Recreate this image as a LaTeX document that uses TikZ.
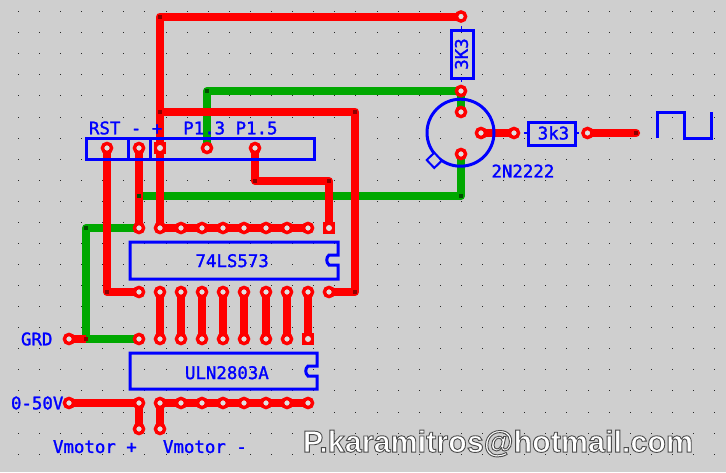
\documentclass[tikz,border=0pt]{standalone}
\usepackage{fontspec}
\newfontfamily\pcbfont[FakeBold=1.5]{DejaVu Sans Mono}
\newfontfamily\markfont[BoldFeatures={FakeBold=3}]{Liberation Sans}
\definecolor{bgc}{HTML}{CFCFCF}
\definecolor{pcbred}{HTML}{FF0000}
\definecolor{pcbgreen}{HTML}{00A800}
\definecolor{pcbblue}{HTML}{0000FF}
\definecolor{holec}{HTML}{E0E0E0}
\tikzset{
  x=1pt,y=-1pt,
  redtrack/.style={draw=pcbred,line width=8pt,line join=round},
  greentrack/.style={draw=pcbgreen,line width=8pt,line join=round},
  outline/.style={draw=pcbblue,line width=3pt,line join=miter},
  thinlead/.style={draw=pcbblue,line width=1.5pt},
  pad/.style={circle,draw=pcbred,line width=3.4pt,fill=holec,minimum size=9.2pt,inner sep=0pt,outer sep=0pt},
  sqpad/.style={rectangle,fill=pcbred,minimum size=12pt,inner sep=0pt,outer sep=0pt,
    path picture={\fill[holec] (path picture bounding box.center) circle[radius=3pt];}},
  vianode/.style={rectangle,minimum size=4pt,inner sep=0pt,outer sep=0pt},
  viared/.style={vianode,fill=red!55!black},
  viagreen/.style={vianode,fill=green!30!black},
  silk/.style={text=pcbblue,font=\pcbfont\fontsize{17.4}{18}\selectfont,inner sep=0pt,outer sep=0pt},
}
\begin{document}
\begin{tikzpicture}
\useasboundingbox (0,0) rectangle (726,472);
\fill[bgc] (0,0) rectangle (726,472);
% grid of dots
\foreach \i in {0,...,33}{\foreach \j in {0,...,21}{
  \fill[black!85] ({18.3+21.1*\i-0.5},{11.7+21.07*\j-0.5}) rectangle +(1,1);
}}
% named points
\coordinate (J1) at (107,148); \coordinate (J2) at (139,148); \coordinate (J3) at (160,148);
\coordinate (J4) at (207,148); \coordinate (J5) at (255,148);
\coordinate (Rt) at (461,16.5); \coordinate (Rb) at (461,91);
\coordinate (Qc) at (461,112); \coordinate (Qb) at (481,133); \coordinate (Qe) at (461,154);
\coordinate (Ra) at (514,133); \coordinate (Rc) at (587.5,133);
\coordinate (Sg) at (636,133);
\coordinate (c1) at (160,16.5); \coordinate (c2) at (160,111.5); \coordinate (c3) at (207,91);
\coordinate (c4) at (355,111.5); \coordinate (c5) at (255,181); \coordinate (c6) at (329,181);
\coordinate (c7) at (139,196); \coordinate (c8) at (86,228); \coordinate (c9) at (107,292);
\coordinate (c10) at (355,292); \coordinate (c11) at (86,339); \coordinate (c12) at (461,196);
\foreach \n/\x in {a/139,b/160,c/181,d/202,e/223,f/244,g/266,h/287,i/308,j/329}{
  \coordinate (T\n) at (\x,228);
  \coordinate (M\n) at (\x,292);
  \coordinate (L\n) at (\x,339);
  \coordinate (B\n) at (\x,403);
}
\coordinate (G0) at (69,339); \coordinate (V0) at (69,403);
\coordinate (Va) at (139,429); \coordinate (Vb) at (160,429);
% green tracks
\draw[greentrack] (J4) -- (c3) -- (Rb);
\draw[greentrack] (Qe) -- (c12) -- (c7);
\draw[greentrack] (Rb) -- (Qc);
\draw[greentrack] (Ta) -- (c8) -- (c11) -- (La);
% red tracks
\draw[redtrack] (Rt) -- (c1) -- (Tb);
\draw[redtrack] (c2) -- (c4) -- (c10) -- (Mj);
\draw[redtrack] (J5) -- (c5) -- (c6) -- (Tj);
\draw[redtrack] (J1) -- (c9) -- (Ma);
\draw[redtrack] (J2) -- (Ta);
\draw[redtrack] (Tb) -- (Ti);
\draw[redtrack] (G0) -- (c11);
\draw[redtrack] (Qb) -- (Ra);
\draw[redtrack] (Rc) -- (Sg);
\draw[redtrack,line cap=round] (Sg) -- +(0.1,0);
\draw[redtrack] (V0) -- (Ba) -- (Va);
\draw[redtrack] (Vb) -- (Bb) -- (Bi);
\foreach \n in {b,c,d,e,f,g,h,i}{\draw[redtrack] (M\n) -- (L\n);}
% vias and corner marks
\foreach \c in {c1,c2,c4,c5,c6,c9,c10,c11,Sg}{\node[viared] at (\c) {};}
\foreach \c in {c3,c7,c8,c12}{\node[viagreen] at (\c) {};}
% blue outlines
\draw[outline] (86,138) rectangle (314,159);
\draw[outline] (128,138) -- (128,159);
\draw[outline] (150,138) -- (150,159);
\draw[outline] (130,242) -- (338,242) -- (338,255) -- (329,255) to[bend right=50] (329,265) -- (338,265) -- (338,279) -- (130,279) -- cycle;
\draw[outline] (130,353) -- (317,353) -- (317,366) -- (308,366) to[bend right=50] (308,376) -- (317,376) -- (317,389) -- (130,389) -- cycle;
\draw[outline] (451,30) rectangle (473,78);
\draw[thinlead] (461.5,26) -- (461.5,30) (461.5,78) -- (461.5,82);
\draw[outline] (528,122) rectangle (575,145);
\draw[thinlead] (524,133) -- (528,133) (575,133) -- (579,133);
\draw[outline] (460.5,132.7) circle[radius=33.5];
\draw[draw=pcbblue,line width=2pt,fill=bgc] (426.7,160) -- (434.3,152.7) -- (441.7,160.7) -- (434.3,168) -- cycle;
\draw[outline] (657,138) -- (657,112) -- (684,112) -- (684,138.5) -- (711,138.5) -- (711,112);
% pads
\foreach \c/\m in {J1/a,J2/b,J4/c,J5/d,Rt/e,Rb/f,Qc/g,Qb/h,Qe/i,Ra/j,Rc/k,G0/l,V0/m,Va/n,Vb/o}{\node[pad] (p\m) at (\c) {};}
\node[sqpad] (pJ3) at (J3) {};
\node[sqpad] (pTj) at (Tj) {};
\node[sqpad] (pLi) at (Li) {};
\foreach \n in {a,b,c,d,e,f,g,h,i}{\node[pad] (pT\n) at (T\n) {};}
\foreach \n in {a,b,c,d,e,f,g,h,i,j}{\node[pad] (pM\n) at (M\n) {};}
\foreach \n in {a,b,c,d,e,f,g,h}{\node[pad] (pL\n) at (L\n) {};}
\foreach \n in {a,b,c,d,e,f,g,h,i}{\node[pad] (pB\n) at (B\n) {};}
% labels
\node[silk,anchor=west] (t1) at (89,128) {RST~-~+~~P1.3~P1.5};
\node[silk,anchor=west] (t2) at (195.5,260.7) {74LS573};
\node[silk,anchor=west] (t3) at (185,372.7) {ULN2803A};
\node[silk,anchor=west] (t4) at (21,339) {GRD};
\node[silk,anchor=west] (t5) at (11,403) {0-50V};
\node[silk,anchor=west] (t6) at (53,446.7) {Vmotor~+};
\node[silk,anchor=west] (t7) at (163,446.7) {Vmotor~-};
\node[silk,anchor=west] (t8) at (491.5,171) {2N2222};
\node[silk,anchor=center] (t9) at (553.5,133) {3k3};
\node[silk,anchor=center,rotate=90] (t10) at (461.5,54) {3K3};
\node[inner sep=0pt,outer sep=0pt,anchor=center] (mark) at (498,443.5) {\special{pdf:bcolor [1 1 1] [0.3 0.3 0.3]}\markfont\bfseries\fontsize{30.5}{32}\selectfont P.karamitros@hotmail.com\special{pdf:ecolor}};
\end{tikzpicture}
\end{document}
